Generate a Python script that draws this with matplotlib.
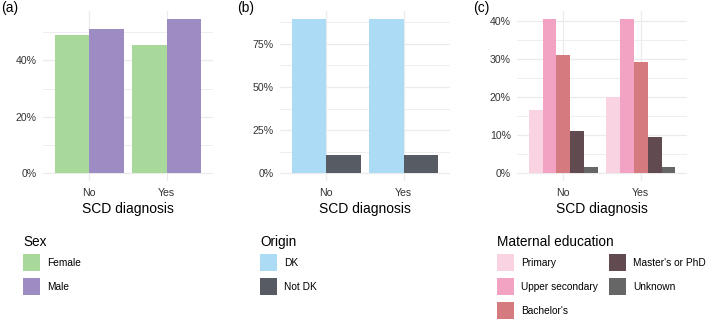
import numpy as np
import matplotlib
matplotlib.use("Agg")
import matplotlib.pyplot as plt
from matplotlib.patches import Rectangle
from matplotlib.ticker import PercentFormatter, FixedLocator

plt.rcParams['font.family'] = ['Liberation Sans', 'DejaVu Sans']

# data (percent within each SCD diagnosis group)
diagnosis = ['No', 'Yes']

sex_levels = ['Female', 'Male']
sex_values = [[48.9, 45.3],   # Female
              [51.1, 54.7]]   # Male
sex_colors = ['#a8d89a', '#9d8bc4']

origin_levels = ['DK', 'Not DK']
origin_values = [[89.6, 89.6],
                 [10.4, 10.4]]
origin_colors = ['#acdcf5', '#575b63']

edu_levels = ['Primary', 'Upper secondary', "Bachelor's", "Master's or PhD", 'Unknown']
edu_values = [[16.6, 19.9],
              [40.3, 40.5],
              [30.9, 29.2],
              [11.0, 9.5],
              [1.7, 1.7]]
edu_colors = ['#f9d3e2', '#f2a2c3', '#d57a7e', '#614b50', '#666666']

W, H = 708, 319
fig = plt.figure(figsize=(W / 100, H / 100), dpi=100)

grid_col = '#ebebeb'
text_col = '#333333'


def panel(left_px, values, colors, major, minor, tag, tag_x):
    ax = fig.add_axes([left_px / W, 1 - 181 / H, 170 / W, 170 / H])
    x = np.arange(len(diagnosis))
    n = len(values)
    w = 0.9 / n
    for i, (vals, col) in enumerate(zip(values, colors)):
        ax.bar(x + (i - (n - 1) / 2) * w, vals, width=w, color=col,
               edgecolor='none', zorder=3)
    top = max(max(v) for v in values)
    ax.set_ylim(-0.05 * top, 1.05 * top)
    ax.set_xlim(-0.6, len(diagnosis) - 0.4)
    ax.set_xticks(x)
    ax.set_xticklabels(diagnosis)
    ax.yaxis.set_major_locator(FixedLocator(major))
    ax.yaxis.set_minor_locator(FixedLocator(minor))
    ax.yaxis.set_major_formatter(PercentFormatter(decimals=0))
    ax.grid(True, which='major', color=grid_col, lw=0.9, zorder=0)
    ax.grid(True, which='minor', axis='y', color=grid_col, lw=0.6, zorder=0)
    for s in ax.spines.values():
        s.set_visible(False)
    ax.tick_params(which='both', length=0, labelsize=7.6, colors=text_col)
    ax.tick_params(axis='x', pad=5)
    ax.tick_params(axis='y', pad=4.5)
    ax.set_xlabel('SCD diagnosis', fontsize=10, labelpad=3, color='black')
    fig.text(tag_x / W, 1 - 8 / H, tag, fontsize=10, va='center', ha='left')
    return ax


panel(43, sex_values, sex_colors, [0, 20, 40], [10, 30, 50], '(a)', 1)
panel(280, origin_values, origin_colors, [0, 25, 50, 75],
      [12.5, 37.5, 62.5, 87.5], '(b)', 237)
panel(517, edu_values, edu_colors, [0, 10, 20, 30, 40],
      [5, 15, 25, 35], '(c)', 473)


# legends drawn as key boxes + labels, positioned in pixels
def legend(x_px, title, levels, colors, nrow=3, col_w=112):
    fig.text(x_px / W, 1 - 242 / H, title, fontsize=9.8, va='center', ha='left')
    key = 17
    for i, (lab, col) in enumerate(zip(levels, colors)):
        c, r = divmod(i, nrow)
        kx = x_px + c * col_w
        ky = 254 + r * 24
        fig.add_artist(Rectangle((kx / W, 1 - (ky + key) / H), key / W, key / H,
                                 transform=fig.transFigure, facecolor=col,
                                 edgecolor='none'))
        fig.text((kx + 24) / W, 1 - (ky + key / 2) / H, lab, fontsize=7.3,
                 va='center', ha='left', color='black')


legend(23, 'Sex', sex_levels, sex_colors)
legend(260, 'Origin', origin_levels, origin_colors)
legend(497, 'Maternal education', edu_levels, edu_colors)

fig.savefig('out.png', dpi=100)
